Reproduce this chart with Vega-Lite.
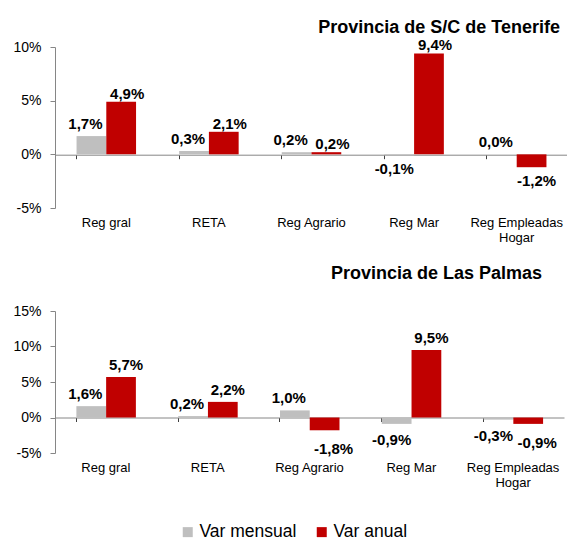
{
  "$schema": "https://vega.github.io/schema/vega-lite/v6.json",
  "background": "white",
  "padding": {"left": 12, "top": 19, "right": 0, "bottom": 0},
  "config": {
    "locale": {"number": {"decimal": ",", "thousands": ".", "grouping": [3], "currency": ["", " €"], "minus": "-"}},
    "font": "Liberation Sans",
    "view": {"stroke": null},
    "concat": {"spacing": 21},
    "axis": {"labelFont": "Liberation Sans", "labelColor": "#000000", "grid": false, "title": null, "labelOverlap": false},
    "text": {"fontSize": 15, "fontWeight": "bold", "font": "Liberation Sans", "color": "#000000"}
  },
  "datasets": {
    "tf": [
      {"cat": "Reg gral", "serie": "Var mensual", "v": 0.017},
      {"cat": "Reg gral", "serie": "Var anual", "v": 0.049},
      {"cat": "RETA", "serie": "Var mensual", "v": 0.003},
      {"cat": "RETA", "serie": "Var anual", "v": 0.021},
      {"cat": "Reg Agrario", "serie": "Var mensual", "v": 0.002},
      {"cat": "Reg Agrario", "serie": "Var anual", "v": 0.002},
      {"cat": "Reg Mar", "serie": "Var mensual", "v": -0.001},
      {"cat": "Reg Mar", "serie": "Var anual", "v": 0.094},
      {"cat": "Reg Empleadas Hogar", "serie": "Var mensual", "v": 0.0},
      {"cat": "Reg Empleadas Hogar", "serie": "Var anual", "v": -0.012}
    ],
    "lp": [
      {"cat": "Reg gral", "serie": "Var mensual", "v": 0.016},
      {"cat": "Reg gral", "serie": "Var anual", "v": 0.057},
      {"cat": "RETA", "serie": "Var mensual", "v": 0.002},
      {"cat": "RETA", "serie": "Var anual", "v": 0.022},
      {"cat": "Reg Agrario", "serie": "Var mensual", "v": 0.010},
      {"cat": "Reg Agrario", "serie": "Var anual", "v": -0.018},
      {"cat": "Reg Mar", "serie": "Var mensual", "v": -0.009},
      {"cat": "Reg Mar", "serie": "Var anual", "v": 0.095},
      {"cat": "Reg Empleadas Hogar", "serie": "Var mensual", "v": -0.003},
      {"cat": "Reg Empleadas Hogar", "serie": "Var anual", "v": -0.009}
    ]
  },
  "vconcat": [
    {
      "title": {"text": "Provincia de S/C de Tenerife", "anchor": "end", "frame": "group", "dx": -8, "fontSize": 18, "fontWeight": "bold", "font": "Liberation Sans", "color": "#000000", "baseline": "alphabetic", "offset": -13},
      "width": 513,
      "height": 161,
      "data": {"name": "tf"},
      "encoding": {
        "xOffset": {"field": "serie", "type": "nominal", "sort": ["Var mensual", "Var anual"], "scale": {"paddingInner": 0, "paddingOuter": 0}},
        "y": {"field": "v", "type": "quantitative", "scale": {"domain": [-0.05, 0.1], "nice": false, "zero": false},
              "axis": {"values": [-0.05, 0, 0.05, 0.1], "format": ".0%", "labelFontSize": 14, "domainColor": "#868686", "tickColor": "#868686", "tickSize": 5, "labelPadding": 9}},
        "text": {"field": "v", "type": "quantitative", "format": ".1%"}
      },
      "layer": [
        {
          "mark": {"type": "bar"},
          "encoding": {
            "x": {"field": "cat", "type": "nominal", "scale": {"domain": ["Reg gral", "RETA", "Reg Agrario", "Reg Mar", "Reg Empleadas Hogar"], "paddingInner": 0.42, "paddingOuter": 0.21},
                  "axis": {"orient": "bottom", "domain": false, "ticks": false, "labelAngle": 0, "labelFontSize": 13, "labelPadding": 8, "labelLineHeight": 15, "labelExpr": "datum.value == 'Reg Empleadas Hogar' ? ['Reg Empleadas', 'Hogar'] : datum.value"}},
            "text": null,
            "color": {"field": "serie", "type": "nominal", "scale": {"domain": ["Var mensual", "Var anual"], "range": ["#BFBFBF", "#C00000"]},
                      "legend": {"orient": "none", "legendX": 124, "legendY": 476, "direction": "horizontal", "title": null, "symbolType": "square", "symbolSize": 100, "symbolStrokeWidth": 0, "labelFontSize": 17.5, "labelFont": "Liberation Sans", "labelColor": "#000000", "columnPadding": 16, "labelOffset": 3}}
          }
        },
        {
          "transform": [{"filter": "datum.serie == 'Var mensual' && datum.v >= 0"}],
          "mark": {"type": "text", "baseline": "bottom", "dy": -4, "dx": -6},
          "encoding": {
            "x": {"field": "cat", "type": "nominal", "scale": {"domain": ["Reg gral", "RETA", "Reg Agrario", "Reg Mar", "Reg Empleadas Hogar"]},
                  "axis": {"orient": "bottom", "offset": -53.3, "labels": false, "domainColor": "#868686", "tickColor": "#404040", "tickSize": 4, "bandPosition": 0}}
          }
        },
        {
          "transform": [{"filter": "datum.serie == 'Var anual' && datum.v >= 0"}],
          "mark": {"type": "text", "baseline": "bottom", "dy": 0, "dx": 6},
          "encoding": {"x": {"field": "cat", "type": "nominal", "scale": {"domain": ["Reg gral", "RETA", "Reg Agrario", "Reg Mar", "Reg Empleadas Hogar"]}, "axis": null}}
        },
        {
          "transform": [{"filter": "datum.serie == 'Var mensual' && datum.v < 0"}],
          "mark": {"type": "text", "baseline": "top", "dy": 7, "dx": -5},
          "encoding": {"x": {"field": "cat", "type": "nominal", "scale": {"domain": ["Reg gral", "RETA", "Reg Agrario", "Reg Mar", "Reg Empleadas Hogar"]}, "axis": null}}
        },
        {
          "transform": [{"filter": "datum.serie == 'Var anual' && datum.v < 0"}],
          "mark": {"type": "text", "baseline": "top", "dy": 7, "dx": 5},
          "encoding": {"x": {"field": "cat", "type": "nominal", "scale": {"domain": ["Reg gral", "RETA", "Reg Agrario", "Reg Mar", "Reg Empleadas Hogar"]}, "axis": null}}
        }
      ],
      "resolve": {"axis": {"x": "independent"}}
    },
    {
      "title": {"text": "Provincia de Las Palmas", "anchor": "end", "frame": "group", "dx": -22, "fontSize": 18, "fontWeight": "bold", "font": "Liberation Sans", "color": "#000000", "baseline": "alphabetic", "offset": 7},
      "width": 509,
      "height": 142,
      "data": {"name": "lp"},
      "encoding": {
        "xOffset": {"field": "serie", "type": "nominal", "sort": ["Var mensual", "Var anual"], "scale": {"paddingInner": 0, "paddingOuter": 0}},
        "y": {"field": "v", "type": "quantitative", "scale": {"domain": [-0.05, 0.15], "nice": false, "zero": false},
              "axis": {"values": [-0.05, 0, 0.05, 0.1, 0.15], "format": ".0%", "labelFontSize": 14, "domainColor": "#868686", "tickColor": "#868686", "tickSize": 5, "labelPadding": 9}},
        "text": {"field": "v", "type": "quantitative", "format": ".1%"}
      },
      "layer": [
        {
          "mark": {"type": "bar"},
          "encoding": {
            "x": {"field": "cat", "type": "nominal", "scale": {"domain": ["Reg gral", "RETA", "Reg Agrario", "Reg Mar", "Reg Empleadas Hogar"], "paddingInner": 0.42, "paddingOuter": 0.21},
                  "axis": {"orient": "bottom", "domain": false, "ticks": false, "labelAngle": 0, "labelFontSize": 13, "labelPadding": 8, "labelLineHeight": 15, "labelExpr": "datum.value == 'Reg Empleadas Hogar' ? ['Reg Empleadas', 'Hogar'] : datum.value"}},
            "text": null,
            "color": {"field": "serie", "type": "nominal", "scale": {"domain": ["Var mensual", "Var anual"], "range": ["#BFBFBF", "#C00000"]}}
          }
        },
        {
          "transform": [{"filter": "datum.serie == 'Var mensual' && datum.v >= 0"}],
          "mark": {"type": "text", "baseline": "bottom", "dy": -4, "dx": -6},
          "encoding": {
            "x": {"field": "cat", "type": "nominal", "scale": {"domain": ["Reg gral", "RETA", "Reg Agrario", "Reg Mar", "Reg Empleadas Hogar"]},
                  "axis": {"orient": "bottom", "offset": -35.5, "labels": false, "domainColor": "#868686", "tickColor": "#404040", "tickSize": 4, "bandPosition": 0}}
          }
        },
        {
          "transform": [{"filter": "datum.serie == 'Var anual' && datum.v >= 0"}],
          "mark": {"type": "text", "baseline": "bottom", "dy": -4, "dx": 5},
          "encoding": {"x": {"field": "cat", "type": "nominal", "scale": {"domain": ["Reg gral", "RETA", "Reg Agrario", "Reg Mar", "Reg Empleadas Hogar"]}, "axis": null}}
        },
        {
          "transform": [{"filter": "datum.serie == 'Var mensual' && datum.v < 0"}],
          "mark": {"type": "text", "baseline": "top", "dy": 9, "dx": -5},
          "encoding": {"x": {"field": "cat", "type": "nominal", "scale": {"domain": ["Reg gral", "RETA", "Reg Agrario", "Reg Mar", "Reg Empleadas Hogar"]}, "axis": null}}
        },
        {
          "transform": [{"filter": "datum.serie == 'Var anual' && datum.v < 0"}],
          "mark": {"type": "text", "baseline": "top", "dy": 12, "dx": 9},
          "encoding": {"x": {"field": "cat", "type": "nominal", "scale": {"domain": ["Reg gral", "RETA", "Reg Agrario", "Reg Mar", "Reg Empleadas Hogar"]}, "axis": null}}
        }
      ],
      "resolve": {"axis": {"x": "independent"}}
    }
  ]
}
